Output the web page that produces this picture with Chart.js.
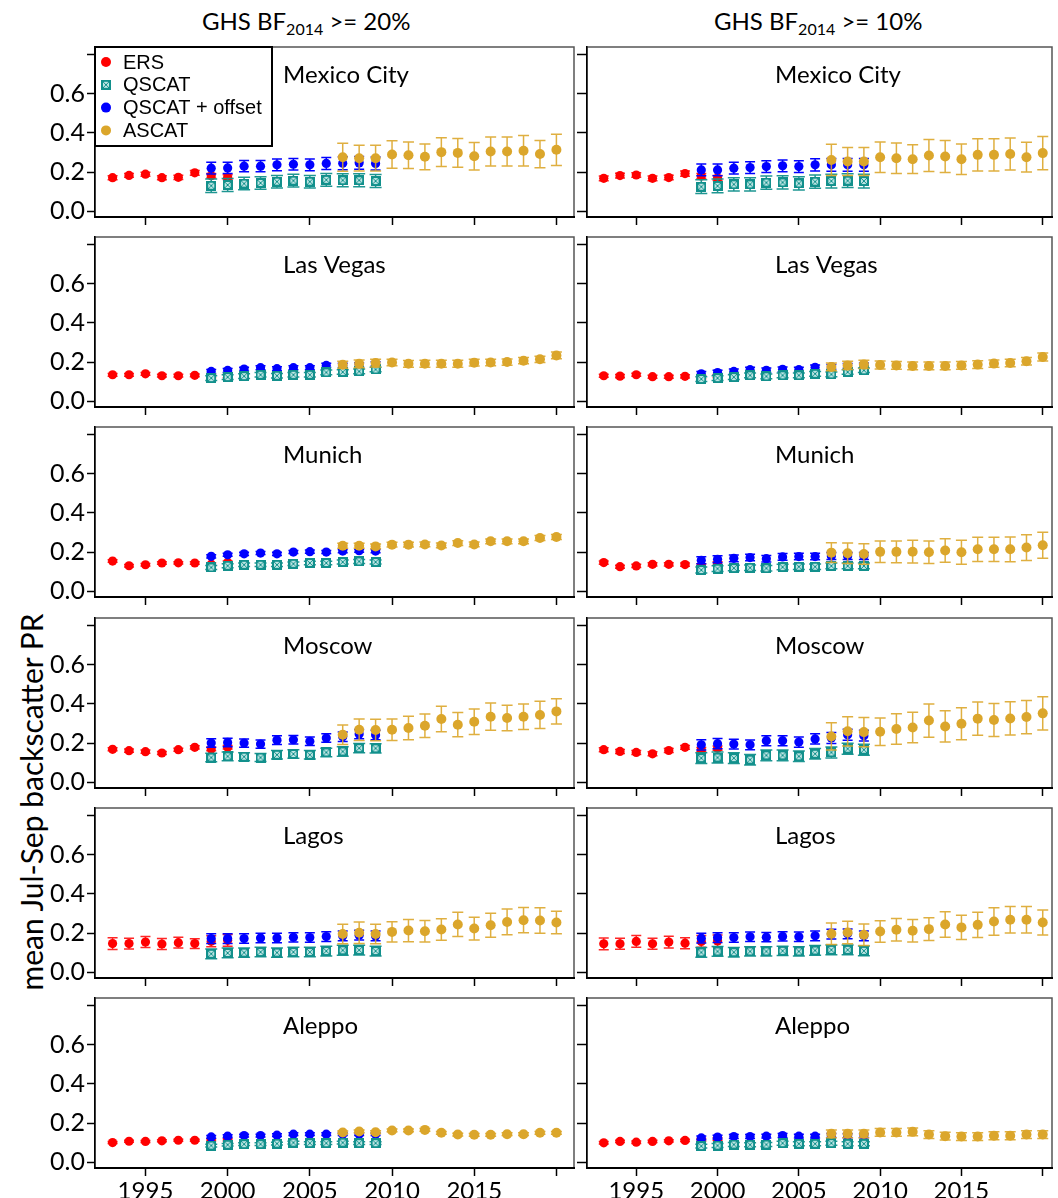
<!DOCTYPE html>
<html>
<head>
<meta charset="utf-8">
<title>Jul-Sep backscatter PR</title>
<script src="https://cdn.jsdelivr.net/npm/chart.js@4.4.1/dist/chart.umd.min.js"></script>
<style>
  html, body { margin: 0; padding: 0; background: #fff; }
  #page { position: relative; width: 1058px; height: 1198px; overflow: hidden; font-family: Lato, sans-serif; color: #000; }
  #page canvas { position: absolute; }
  .coltitle { position: absolute; top: 6px; font-size: 24px; line-height: 30px; white-space: nowrap; }
  .coltitle sub { font-size: 16px; vertical-align: -5px; line-height: 0; }
  #ytitle { position: absolute; left: 31px; top: 802px; transform: translate(-50%, -50%) rotate(-90deg); font-size: 30px; white-space: nowrap; }
</style>
</head>
<body>
<div id="page">
  <div class="coltitle" style="left:202px">GHS BF<sub>2014</sub> &gt;= 20%</div>
  <div class="coltitle" style="left:714px">GHS BF<sub>2014</sub> &gt;= 10%</div>
  <div id="ytitle">mean Jul-Sep backscatter PR</div>
</div>
<script>
// ---- data -------------------------------------------------------------
const CITIES = ['Mexico City', 'Las Vegas', 'Munich', 'Moscow', 'Lagos', 'Aleppo'];
const SERIES = ['ERS', 'QSCAT', 'QSCAT + offset', 'ASCAT'];

const YEARS_ERS = [1993, 1994, 1995, 1996, 1997, 1998, 1999, 2000];
const YEARS_QSCAT = [1999, 2000, 2001, 2002, 2003, 2004, 2005, 2006, 2007, 2008, 2009];
const YEARS_ASCAT = [2007, 2008, 2009, 2010, 2011, 2012, 2013, 2014, 2015, 2016, 2017, 2018, 2019, 2020];

const X_TICKS = [1995, 2000, 2005, 2010, 2015, 2020];
const Y_TICKS = [0, 0.2, 0.4, 0.6, 0.8];

// GHS BF2014 >= 20%  (one row per city, same order as CITIES)
const ERS_20 = [
  [0.171, 0.183, 0.189, 0.171, 0.173, 0.196, 0.181, 0.174],
  [0.135, 0.135, 0.140, 0.130, 0.130, 0.132, 0.128, 0.128],
  [0.154, 0.130, 0.135, 0.144, 0.145, 0.144, 0.138, 0.147],
  [0.168, 0.161, 0.156, 0.149, 0.166, 0.178, 0.169, 0.178],
  [0.146, 0.146, 0.154, 0.144, 0.151, 0.146, 0.158, 0.163],
  [0.100, 0.107, 0.106, 0.109, 0.112, 0.112, 0.114, 0.114]
];
const ERS_ERR_20 = [
  [0.010, 0.010, 0.010, 0.010, 0.011, 0.012, 0.012, 0.012],
  [0.007, 0.007, 0.007, 0.007, 0.007, 0.007, 0.008, 0.008],
  [0.006, 0.006, 0.006, 0.006, 0.006, 0.006, 0.007, 0.007],
  [0.008, 0.008, 0.008, 0.008, 0.008, 0.008, 0.009, 0.009],
  [0.030, 0.027, 0.028, 0.028, 0.028, 0.025, 0.028, 0.030],
  [0.005, 0.005, 0.005, 0.005, 0.005, 0.005, 0.006, 0.006]
];
const QSCAT_20 = [
  [0.130, 0.134, 0.141, 0.144, 0.151, 0.156, 0.151, 0.160, 0.158, 0.158, 0.154],
  [0.118, 0.123, 0.128, 0.135, 0.130, 0.135, 0.135, 0.147, 0.149, 0.152, 0.162],
  [0.121, 0.130, 0.135, 0.135, 0.135, 0.140, 0.144, 0.144, 0.149, 0.152, 0.149],
  [0.126, 0.132, 0.130, 0.126, 0.140, 0.144, 0.140, 0.152, 0.157, 0.174, 0.173],
  [0.094, 0.098, 0.100, 0.103, 0.100, 0.103, 0.103, 0.108, 0.112, 0.113, 0.108],
  [0.085, 0.089, 0.092, 0.092, 0.095, 0.100, 0.097, 0.097, 0.100, 0.097, 0.097]
];
const QSCAT_ERR_20 = [
  [0.034, 0.033, 0.032, 0.032, 0.032, 0.033, 0.032, 0.032, 0.033, 0.033, 0.033],
  [0.012, 0.012, 0.012, 0.011, 0.011, 0.011, 0.011, 0.012, 0.012, 0.012, 0.012],
  [0.010, 0.010, 0.009, 0.009, 0.009, 0.009, 0.009, 0.009, 0.010, 0.010, 0.010],
  [0.022, 0.022, 0.021, 0.021, 0.022, 0.022, 0.022, 0.022, 0.024, 0.024, 0.024],
  [0.025, 0.025, 0.024, 0.024, 0.024, 0.024, 0.024, 0.025, 0.025, 0.025, 0.025],
  [0.007, 0.007, 0.007, 0.007, 0.007, 0.007, 0.007, 0.007, 0.007, 0.007, 0.007]
];
const OFFSET_20 = [
  [0.220, 0.221, 0.230, 0.230, 0.237, 0.240, 0.237, 0.244, 0.245, 0.247, 0.244],
  [0.152, 0.157, 0.164, 0.171, 0.166, 0.171, 0.171, 0.183, 0.183, 0.186, 0.191],
  [0.178, 0.186, 0.191, 0.195, 0.191, 0.200, 0.202, 0.200, 0.205, 0.207, 0.205],
  [0.200, 0.203, 0.200, 0.195, 0.215, 0.217, 0.209, 0.226, 0.232, 0.246, 0.241],
  [0.172, 0.172, 0.172, 0.175, 0.175, 0.178, 0.177, 0.182, 0.185, 0.189, 0.185],
  [0.129, 0.133, 0.136, 0.136, 0.138, 0.143, 0.143, 0.143, 0.143, 0.143, 0.143]
];
const OFFSET_ERR_20 = [
  [0.030, 0.029, 0.029, 0.029, 0.030, 0.030, 0.030, 0.031, 0.033, 0.033, 0.033],
  [0.010, 0.010, 0.010, 0.010, 0.010, 0.010, 0.010, 0.011, 0.011, 0.011, 0.011],
  [0.008, 0.008, 0.008, 0.008, 0.008, 0.008, 0.008, 0.008, 0.008, 0.008, 0.008],
  [0.022, 0.022, 0.021, 0.021, 0.022, 0.022, 0.022, 0.022, 0.024, 0.024, 0.024],
  [0.025, 0.025, 0.024, 0.024, 0.024, 0.024, 0.024, 0.025, 0.025, 0.025, 0.025],
  [0.007, 0.007, 0.007, 0.007, 0.007, 0.007, 0.007, 0.007, 0.007, 0.007, 0.007]
];
const ASCAT_20 = [
  [0.276, 0.271, 0.271, 0.290, 0.286, 0.278, 0.302, 0.298, 0.281, 0.305, 0.305, 0.309, 0.292, 0.314],
  [0.186, 0.191, 0.195, 0.198, 0.191, 0.191, 0.191, 0.191, 0.197, 0.198, 0.200, 0.207, 0.214, 0.234],
  [0.232, 0.232, 0.229, 0.238, 0.238, 0.239, 0.234, 0.246, 0.239, 0.255, 0.255, 0.255, 0.272, 0.277],
  [0.243, 0.268, 0.267, 0.268, 0.277, 0.289, 0.323, 0.294, 0.309, 0.335, 0.328, 0.335, 0.344, 0.362],
  [0.195, 0.202, 0.195, 0.206, 0.213, 0.209, 0.218, 0.244, 0.223, 0.240, 0.257, 0.266, 0.264, 0.254],
  [0.152, 0.157, 0.153, 0.162, 0.162, 0.165, 0.150, 0.141, 0.140, 0.140, 0.143, 0.143, 0.150, 0.150]
];
const ASCAT_ERR_20 = [
  [0.072, 0.066, 0.066, 0.070, 0.068, 0.066, 0.074, 0.074, 0.070, 0.074, 0.074, 0.078, 0.070, 0.080],
  [0.018, 0.020, 0.020, 0.017, 0.017, 0.018, 0.018, 0.018, 0.017, 0.017, 0.016, 0.016, 0.016, 0.017],
  [0.013, 0.013, 0.012, 0.012, 0.012, 0.012, 0.012, 0.012, 0.012, 0.012, 0.012, 0.012, 0.013, 0.013],
  [0.050, 0.055, 0.055, 0.055, 0.060, 0.060, 0.065, 0.062, 0.065, 0.070, 0.065, 0.065, 0.070, 0.065],
  [0.050, 0.055, 0.050, 0.052, 0.057, 0.055, 0.055, 0.062, 0.058, 0.062, 0.066, 0.065, 0.065, 0.057],
  [0.007, 0.007, 0.007, 0.007, 0.007, 0.007, 0.007, 0.007, 0.007, 0.007, 0.007, 0.007, 0.007, 0.007]
];

// GHS BF2014 >= 10%
const ERS_10 = [
  [0.168, 0.182, 0.185, 0.168, 0.172, 0.192, 0.180, 0.170],
  [0.130, 0.128, 0.135, 0.125, 0.125, 0.127, 0.123, 0.128],
  [0.146, 0.125, 0.129, 0.137, 0.137, 0.136, 0.132, 0.142],
  [0.166, 0.157, 0.152, 0.145, 0.162, 0.178, 0.166, 0.174],
  [0.145, 0.145, 0.157, 0.145, 0.154, 0.148, 0.157, 0.160],
  [0.099, 0.106, 0.102, 0.106, 0.109, 0.111, 0.114, 0.118]
];
const ERS_ERR_10 = [
  [0.012, 0.012, 0.012, 0.012, 0.012, 0.013, 0.013, 0.013],
  [0.008, 0.008, 0.008, 0.008, 0.008, 0.008, 0.008, 0.008],
  [0.008, 0.008, 0.008, 0.008, 0.008, 0.008, 0.008, 0.008],
  [0.010, 0.010, 0.010, 0.010, 0.010, 0.010, 0.011, 0.011],
  [0.030, 0.028, 0.030, 0.028, 0.030, 0.028, 0.030, 0.030],
  [0.006, 0.006, 0.006, 0.006, 0.006, 0.006, 0.007, 0.007]
];
const QSCAT_10 = [
  [0.125, 0.129, 0.137, 0.137, 0.146, 0.147, 0.142, 0.151, 0.154, 0.156, 0.154],
  [0.113, 0.118, 0.123, 0.132, 0.127, 0.132, 0.132, 0.140, 0.137, 0.149, 0.158],
  [0.108, 0.115, 0.118, 0.120, 0.117, 0.123, 0.125, 0.125, 0.129, 0.129, 0.129],
  [0.123, 0.126, 0.123, 0.115, 0.137, 0.137, 0.132, 0.145, 0.152, 0.171, 0.166],
  [0.101, 0.106, 0.102, 0.106, 0.106, 0.109, 0.106, 0.111, 0.114, 0.114, 0.109],
  [0.082, 0.085, 0.090, 0.089, 0.090, 0.097, 0.094, 0.094, 0.097, 0.094, 0.094]
];
const QSCAT_ERR_10 = [
  [0.035, 0.035, 0.034, 0.034, 0.034, 0.034, 0.034, 0.034, 0.035, 0.035, 0.035],
  [0.012, 0.012, 0.012, 0.012, 0.012, 0.012, 0.012, 0.012, 0.012, 0.012, 0.012],
  [0.015, 0.015, 0.014, 0.014, 0.014, 0.014, 0.014, 0.014, 0.015, 0.015, 0.015],
  [0.028, 0.028, 0.027, 0.027, 0.027, 0.027, 0.027, 0.027, 0.028, 0.028, 0.028],
  [0.025, 0.025, 0.024, 0.024, 0.024, 0.024, 0.024, 0.025, 0.025, 0.025, 0.025],
  [0.010, 0.010, 0.010, 0.010, 0.010, 0.010, 0.010, 0.010, 0.010, 0.010, 0.010]
];
const OFFSET_10 = [
  [0.211, 0.211, 0.220, 0.223, 0.228, 0.232, 0.228, 0.237, 0.237, 0.237, 0.237],
  [0.140, 0.146, 0.152, 0.161, 0.158, 0.163, 0.161, 0.173, 0.175, 0.180, 0.183],
  [0.158, 0.163, 0.168, 0.172, 0.166, 0.175, 0.177, 0.177, 0.180, 0.180, 0.180],
  [0.191, 0.197, 0.195, 0.191, 0.212, 0.212, 0.205, 0.221, 0.226, 0.243, 0.238],
  [0.174, 0.177, 0.177, 0.181, 0.179, 0.183, 0.181, 0.186, 0.195, 0.196, 0.186],
  [0.124, 0.128, 0.131, 0.131, 0.133, 0.136, 0.133, 0.133, 0.136, 0.135, 0.135]
];
const OFFSET_ERR_10 = [
  [0.030, 0.030, 0.030, 0.030, 0.030, 0.030, 0.030, 0.031, 0.033, 0.033, 0.033],
  [0.012, 0.012, 0.012, 0.012, 0.012, 0.012, 0.012, 0.012, 0.012, 0.012, 0.012],
  [0.018, 0.018, 0.017, 0.017, 0.017, 0.017, 0.017, 0.017, 0.018, 0.018, 0.018],
  [0.026, 0.026, 0.025, 0.025, 0.026, 0.026, 0.026, 0.026, 0.028, 0.028, 0.028],
  [0.025, 0.025, 0.024, 0.024, 0.024, 0.024, 0.024, 0.025, 0.025, 0.025, 0.025],
  [0.010, 0.010, 0.010, 0.010, 0.010, 0.010, 0.010, 0.010, 0.010, 0.010, 0.010]
];
const ASCAT_10 = [
  [0.262, 0.254, 0.254, 0.276, 0.271, 0.266, 0.285, 0.280, 0.266, 0.288, 0.288, 0.292, 0.276, 0.297],
  [0.175, 0.183, 0.188, 0.185, 0.183, 0.180, 0.180, 0.180, 0.183, 0.187, 0.192, 0.195, 0.204, 0.226],
  [0.197, 0.194, 0.190, 0.201, 0.201, 0.202, 0.199, 0.208, 0.199, 0.214, 0.214, 0.214, 0.223, 0.235],
  [0.234, 0.260, 0.256, 0.258, 0.272, 0.280, 0.315, 0.285, 0.299, 0.325, 0.318, 0.326, 0.333, 0.352],
  [0.196, 0.203, 0.191, 0.208, 0.217, 0.212, 0.220, 0.244, 0.229, 0.242, 0.259, 0.268, 0.268, 0.254],
  [0.145, 0.145, 0.145, 0.152, 0.152, 0.155, 0.141, 0.133, 0.131, 0.131, 0.135, 0.135, 0.141, 0.141]
];
const ASCAT_ERR_10 = [
  [0.080, 0.072, 0.072, 0.078, 0.078, 0.074, 0.082, 0.082, 0.078, 0.082, 0.082, 0.082, 0.076, 0.085],
  [0.020, 0.021, 0.021, 0.020, 0.020, 0.020, 0.020, 0.020, 0.020, 0.020, 0.019, 0.019, 0.019, 0.020],
  [0.050, 0.052, 0.053, 0.055, 0.056, 0.058, 0.058, 0.060, 0.062, 0.062, 0.062, 0.063, 0.066, 0.067],
  [0.070, 0.075, 0.075, 0.070, 0.078, 0.078, 0.085, 0.080, 0.082, 0.085, 0.085, 0.085, 0.085, 0.085],
  [0.055, 0.058, 0.055, 0.055, 0.058, 0.058, 0.058, 0.065, 0.062, 0.065, 0.070, 0.068, 0.068, 0.064],
  [0.020, 0.020, 0.020, 0.020, 0.020, 0.020, 0.020, 0.020, 0.020, 0.020, 0.020, 0.020, 0.020, 0.020]
];

// ---- look ---------------------------------------------------------------
const RED = '#ff0000';
const TEAL = '#12908c';
const BLUE = '#0000ff';
const GOLD = '#dba62b';
const FONT = 'Lato, "Open Sans", sans-serif';

const ROW_TOP = 47, ROW_STEP = 190.2, PLOT_H = 170, PAD_TOP = 12, XAXIS_H = 40;
const X_RANGE = [[1991.93, 2021.07], [1991.97, 2020.57]];

function qscatMarker() {
  const c = document.createElement('canvas');
  c.width = 10; c.height = 10;
  const g = c.getContext('2d');
  g.fillStyle = TEAL; g.fillRect(0, 0, 10, 10);
  g.fillStyle = '#bfe6e4'; g.fillRect(2, 2, 6, 6);
  g.strokeStyle = TEAL; g.lineWidth = 1;
  g.beginPath(); g.moveTo(2, 2); g.lineTo(8, 8); g.moveTo(8, 2); g.lineTo(2, 8); g.stroke();
  return c;
}
const QSCAT_MARK = qscatMarker();

// ---- plugins --------------------------------------------------------------
const frame = {
  id: 'frame',
  beforeDraw(chart) {
    const {ctx, chartArea: a} = chart;
    ctx.save();
    ctx.strokeStyle = '#555'; ctx.lineWidth = 1.5;
    ctx.strokeRect(a.left, a.top, a.right - a.left, a.bottom - a.top);
    ctx.restore();
  }
};

const errorBars = {
  id: 'errorBars',
  beforeDatasetDraw(chart, args) {
    const ds = chart.data.datasets[args.index];
    if (!ds.err) return;
    const {ctx} = chart, x = chart.scales.x, y = chart.scales.y;
    ctx.save();
    ctx.strokeStyle = ds.errColor; ctx.lineWidth = 1.5;
    ds.data.forEach((p, i) => {
      const px = x.getPixelForValue(p.x);
      const t = y.getPixelForValue(p.y + ds.err[i]);
      const b = y.getPixelForValue(p.y - ds.err[i]);
      ctx.beginPath();
      ctx.moveTo(px, t); ctx.lineTo(px, b);
      ctx.moveTo(px - ds.cap, t); ctx.lineTo(px + ds.cap, t);
      ctx.moveTo(px - ds.cap, b); ctx.lineTo(px + ds.cap, b);
      ctx.stroke();
    });
    ctx.restore();
  }
};

const panelTitle = {
  id: 'panelTitle',
  afterDraw(chart, args, opts) {
    const {ctx, chartArea: a} = chart;
    ctx.save();
    ctx.font = '24px ' + FONT;
    ctx.fillStyle = '#000';
    ctx.textBaseline = 'alphabetic';
    ctx.fillText(opts.text, a.left + 188, a.top + 36);
    ctx.restore();
  }
};

const boxLegend = {
  id: 'boxLegend',
  afterDraw(chart, args, opts) {
    if (!opts.show) return;
    const {ctx, chartArea: a} = chart;
    const x0 = a.left, y0 = a.top;
    ctx.save();
    ctx.fillStyle = '#fff';
    ctx.fillRect(x0, y0, 177, 99);
    ctx.strokeStyle = '#000'; ctx.lineWidth = 2;
    ctx.strokeRect(x0, y0, 177, 99);
    ctx.font = '20px "Liberation Sans", Arial, sans-serif';
    ctx.textBaseline = 'middle';
    chart.data.datasets.forEach((ds, i) => {
      const cy = y0 + 15 + i * 22.8, cx = x0 + 11;
      if (ds.pointStyle instanceof HTMLCanvasElement) {
        ctx.drawImage(ds.pointStyle, cx - 5, cy - 5);
      } else {
        ctx.fillStyle = ds.backgroundColor;
        ctx.beginPath(); ctx.arc(cx, cy, 5, 0, Math.PI * 2); ctx.fill();
      }
      ctx.fillStyle = '#000';
      ctx.fillText(ds.label, x0 + 28, cy + 1);
    });
    ctx.restore();
  }
};

// ---- panels -------------------------------------------------------------
function points(years, values) {
  return years.map((x, i) => ({x: x, y: values[i]}));
}

function noPadding(s) {
  s.paddingTop = 0; s.paddingBottom = 0; s.paddingLeft = 0; s.paddingRight = 0;
}

function makePanel(row, col) {
  const left = col === 0;
  const bottom = row === CITIES.length - 1;
  const ers = left ? ERS_20 : ERS_10, ersErr = left ? ERS_ERR_20 : ERS_ERR_10;
  const qs = left ? QSCAT_20 : QSCAT_10, qsErr = left ? QSCAT_ERR_20 : QSCAT_ERR_10;
  const off = left ? OFFSET_20 : OFFSET_10, offErr = left ? OFFSET_ERR_20 : OFFSET_ERR_10;
  const as = left ? ASCAT_20 : ASCAT_10, asErr = left ? ASCAT_ERR_20 : ASCAT_ERR_10;

  const canvas = document.createElement('canvas');
  const cw = left ? 580 : 498, ch = PAD_TOP + PLOT_H + XAXIS_H;
  canvas.width = cw; canvas.height = ch;
  canvas.style.left = (left ? 0 : 560) + 'px';
  canvas.style.top = (Math.round(ROW_TOP + ROW_STEP * row) - PAD_TOP) + 'px';
  canvas.style.width = cw + 'px'; canvas.style.height = ch + 'px';
  document.getElementById('page').appendChild(canvas);

  const dot = (color) => ({pointRadius: 4.6, pointHoverRadius: 4.6, borderWidth: 0, backgroundColor: color, pointBorderWidth: 0});

  new Chart(canvas, {
    type: 'scatter',
    data: {
      datasets: [
        Object.assign({label: SERIES[0], data: points(YEARS_ERS, ers[row]), err: ersErr[row],
          errColor: 'rgba(255,0,0,0.85)', cap: 5, order: 3}, dot(RED)),
        {label: SERIES[1], data: points(YEARS_QSCAT, qs[row]), err: qsErr[row],
          errColor: 'rgba(18,144,140,0.95)', cap: 6, order: 1,
          pointStyle: QSCAT_MARK, pointRadius: 5, pointHoverRadius: 5, backgroundColor: TEAL},
        Object.assign({label: SERIES[2], data: points(YEARS_QSCAT, off[row]), err: offErr[row],
          errColor: BLUE, cap: 5, order: 2}, dot(BLUE)),
        Object.assign({label: SERIES[3], data: points(YEARS_ASCAT, as[row]), err: asErr[row],
          errColor: 'rgba(219,166,43,0.9)', cap: 5.5, order: 0}, dot(GOLD), {pointRadius: 5, pointHoverRadius: 5})
      ]
    },
    options: {
      responsive: false,
      animation: false,
      devicePixelRatio: 1,
      layout: {padding: {top: PAD_TOP, right: left ? 5 : 0, left: 0, bottom: 0}},
      plugins: {
        legend: {display: false},
        tooltip: {enabled: false},
        panelTitle: {text: CITIES[row]},
        boxLegend: {show: row === 0 && left}
      },
      scales: {
        x: {
          type: 'linear',
          min: X_RANGE[col][0], max: X_RANGE[col][1],
          afterBuildTicks: (s) => { s.ticks = X_TICKS.map((v) => ({value: v})); },
          afterFit: (s) => { s.height = XAXIS_H; noPadding(s); },
          grid: {drawOnChartArea: false, drawTicks: true, tickLength: 8, tickWidth: 1.5, tickColor: '#000'},
          border: {display: true, color: '#000', width: 2},
          ticks: {
            display: bottom, autoSkip: false, maxRotation: 0, padding: 1,
            color: '#000', font: {family: FONT, size: 24},
            callback: (v) => (v === 2020 ? '' : String(v))
          }
        },
        y: {
          type: 'linear',
          min: -0.03, max: 0.84,
          afterBuildTicks: (s) => { s.ticks = Y_TICKS.map((v) => ({value: v})); },
          afterFit: (s) => { s.width = left ? 95 : 27; noPadding(s); },
          grid: {drawOnChartArea: false, drawTicks: true, tickLength: left ? 8 : 10, tickWidth: 1.5, tickColor: '#000'},
          border: {display: true, color: '#000', width: 1.5},
          ticks: {
            display: left, padding: 2,
            color: '#000', font: {family: FONT, size: 25},
            callback: (v) => (v > 0.7 ? '' : v.toFixed(1))
          }
        }
      }
    },
    plugins: [frame, errorBars, panelTitle, boxLegend]
  });
}

CITIES.forEach((city, row) => { makePanel(row, 0); makePanel(row, 1); });
</script>
</body>
</html>
